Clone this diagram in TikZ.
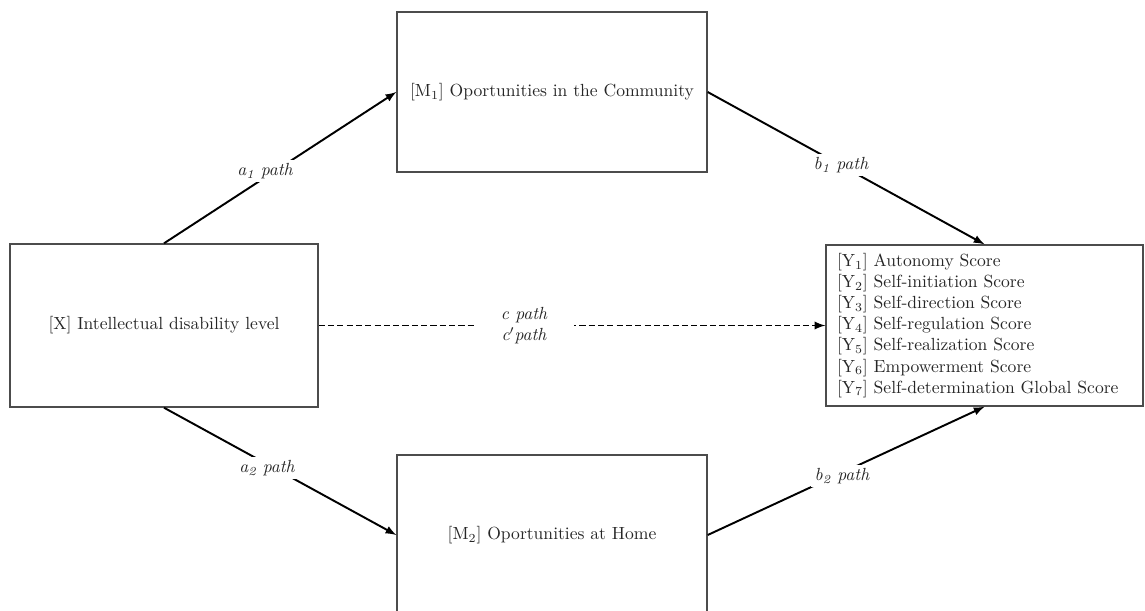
\documentclass[tikz,border=0pt]{standalone}
\usetikzlibrary{arrows}

\begin{document}
\begin{tikzpicture}[>=latex,thick,x=0.02cm,y=-0.02cm,
	kasten/.style={draw=black!70,line width=0.8pt,inner sep=0pt,text=black!85,
		minimum width=6.2cm,minimum height=3.2cm},
	pfeil/.style={->,line width=1.1pt},
	beschriftung/.style={fill=white,inner sep=2pt,font=\itshape,text=black!85}]

\clip (0,0) rectangle (1145,610);

% Kaesten
\node[kasten,minimum width=6.16cm,minimum height=3.26cm] (X) at (164,325.5)
	{[X] Intellectual disability level};
\node[kasten] (M1) at (552,92) {[M\textsubscript{1}] Oportunities in the Community};
\node[kasten] (M2) at (552,535) {[M\textsubscript{2}] Oportunities at Home};
\node[kasten,minimum width=6.34cm,minimum height=3.22cm,text width=5.9cm,align=left]
	(Y) at (984.5,325.5) {%
	{[Y\textsubscript{1}]} Autonomy Score\\
	{[Y\textsubscript{2}]} Self-initiation Score\\
	{[Y\textsubscript{3}]} Self-direction Score\\
	{[Y\textsubscript{4}]} Self-regulation Score\\
	{[Y\textsubscript{5}]} Self-realization Score\\
	{[Y\textsubscript{6}]} Empowerment Score\\
	{[Y\textsubscript{7}]} Self-determination Global Score};

% Pfade
\draw[pfeil] (X.north) -- (M1.west);
\draw[pfeil] (X.south) -- (M2.west);
\draw[pfeil] (M1.east) -- (Y.north);
\draw[pfeil] (M2.east) -- (Y.south);
\draw[pfeil,dash pattern=on 3.5pt off 1.8pt] (X.east) -- (Y.west);

% Beschriftungen
\node[beschriftung] (a1) at (265,171) {a\textsubscript{1} path};
\node[beschriftung] (a2) at (267,468) {a\textsubscript{2} path};
\node[beschriftung] (b1) at (841,165) {b\textsubscript{1} path};
\node[beschriftung] (b2) at (842,476) {b\textsubscript{2} path};
\node[beschriftung,align=center,minimum width=2cm,inner sep=1pt] (c) at (524,325.5)
	{c path\\c$'$path};

\end{tikzpicture}
\end{document}
